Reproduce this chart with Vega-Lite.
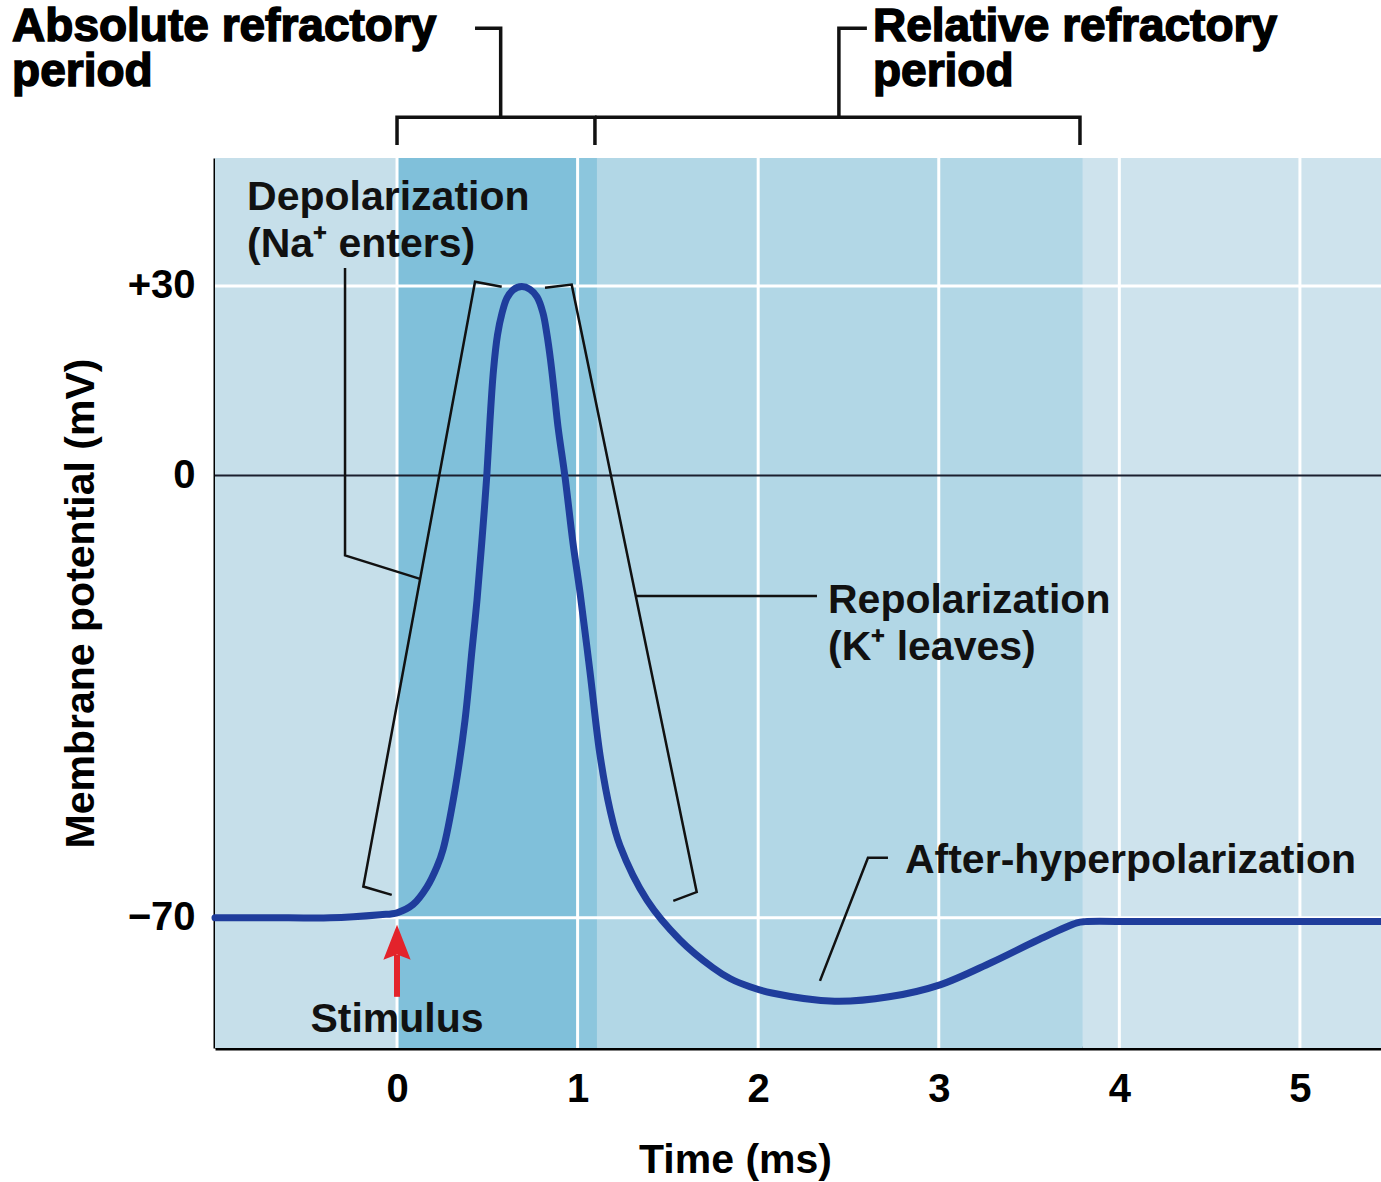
{
  "$schema": "https://vega.github.io/schema/vega-lite/v6.json",
  "width": 1166,
  "height": 890,
  "autosize": {"type": "none"},
  "padding": {"left": 215, "top": 158, "right": 0, "bottom": 134},
  "background": "white",
  "config": {"view": {"stroke": null}, "font": "Liberation Sans"},
  "datasets": {
    "zones": [
      {"a": -1.008, "b": 0, "zone": "rest"},
      {"a": 0, "b": 1.107, "zone": "absolute"},
      {"a": 1.0, "b": 1.107, "zone": "strip"},
      {"a": 1.107, "b": 3.798, "zone": "relative"},
      {"a": 3.798, "b": 5.449, "zone": "after"}
    ],
    "vgrid": [{"t": 0}, {"t": 1}, {"t": 2}, {"t": 3}, {"t": 4}, {"t": 5}],
    "hgrid": [{"v": 30}, {"v": -70}],
    "curve": [
      {"t": -1.008, "v": -70.0},
      {"t": -0.6, "v": -70.0},
      {"t": -0.371, "v": -70.0},
      {"t": -0.094, "v": -69.5},
      {"t": 0.0, "v": -69.2},
      {"t": 0.0886, "v": -67.9},
      {"t": 0.1661, "v": -65.1},
      {"t": 0.2215, "v": -61.9},
      {"t": 0.2547, "v": -59.2},
      {"t": 0.3212, "v": -49.7},
      {"t": 0.3765, "v": -38.7},
      {"t": 0.4153, "v": -27.6},
      {"t": 0.443, "v": -19.7},
      {"t": 0.469, "v": -10.7},
      {"t": 0.4967, "v": -0.2},
      {"t": 0.515, "v": 8.8},
      {"t": 0.5343, "v": 16.7},
      {"t": 0.5565, "v": 22.25},
      {"t": 0.5814, "v": 25.7},
      {"t": 0.6091, "v": 28.1},
      {"t": 0.6423, "v": 29.37},
      {"t": 0.6905, "v": 29.9},
      {"t": 0.7364, "v": 29.45},
      {"t": 0.7752, "v": 28.26},
      {"t": 0.8084, "v": 25.7},
      {"t": 0.8306, "v": 22.25},
      {"t": 0.85, "v": 18.3},
      {"t": 0.8694, "v": 13.5},
      {"t": 0.8915, "v": 7.7},
      {"t": 0.9302, "v": -0.2},
      {"t": 0.9745, "v": -10.7},
      {"t": 1.0133, "v": -18.5},
      {"t": 1.0687, "v": -31.1},
      {"t": 1.124, "v": -44.2},
      {"t": 1.1794, "v": -52.9},
      {"t": 1.2348, "v": -58.6},
      {"t": 1.3843, "v": -67.2},
      {"t": 1.567, "v": -73.5},
      {"t": 1.7497, "v": -77.9},
      {"t": 1.8439, "v": -79.6},
      {"t": 1.9546, "v": -80.9},
      {"t": 2.0764, "v": -81.9},
      {"t": 2.423, "v": -83.2},
      {"t": 2.7243, "v": -82.5},
      {"t": 3.0066, "v": -80.6},
      {"t": 3.289, "v": -77.1},
      {"t": 3.5493, "v": -73.5},
      {"t": 3.7652, "v": -70.8},
      {"t": 3.8095, "v": -70.6},
      {"t": 4.1, "v": -70.6},
      {"t": 4.6, "v": -70.6},
      {"t": 5.1, "v": -70.6},
      {"t": 5.449, "v": -70.6}
    ],
    "topBrackets": [
      {"g": "abs", "o": 1, "t": 0, "v": 52.3},
      {"g": "abs", "o": 2, "t": 0, "v": 56.7},
      {"g": "abs", "o": 3, "t": 1.096, "v": 56.7},
      {"g": "abs", "o": 4, "t": 1.096, "v": 52.3},
      {"g": "absr", "o": 1, "t": 0.574, "v": 56.7},
      {"g": "absr", "o": 2, "t": 0.574, "v": 70.8},
      {"g": "absr", "o": 3, "t": 0.432, "v": 70.8},
      {"g": "rel", "o": 1, "t": 1.096, "v": 56.7},
      {"g": "rel", "o": 2, "t": 3.782, "v": 56.7},
      {"g": "rel", "o": 3, "t": 3.782, "v": 52.3},
      {"g": "relr", "o": 1, "t": 2.447, "v": 56.7},
      {"g": "relr", "o": 2, "t": 2.447, "v": 70.8},
      {"g": "relr", "o": 3, "t": 2.602, "v": 70.8}
    ],
    "innerLines": [
      {"g": "dep", "o": 1, "t": -0.0293, "v": -66.36},
      {"g": "dep", "o": 2, "t": -0.1866, "v": -65.05},
      {"g": "dep", "o": 3, "t": 0.4319, "v": 30.68},
      {"g": "dep", "o": 4, "t": 0.5797, "v": 29.89},
      {"g": "depl", "o": 1, "t": -0.2879, "v": 32.85},
      {"g": "depl", "o": 2, "t": -0.2879, "v": -12.64},
      {"g": "depl", "o": 3, "t": 0.1274, "v": -16.36},
      {"g": "rep", "o": 1, "t": 0.8195, "v": 29.72},
      {"g": "rep", "o": 2, "t": 0.9673, "v": 30.21},
      {"g": "rep", "o": 3, "t": 1.6595, "v": -65.92},
      {"g": "rep", "o": 4, "t": 1.5299, "v": -67.31},
      {"g": "repl", "o": 1, "t": 1.3234, "v": -19.05},
      {"g": "repl", "o": 2, "t": 2.3256, "v": -19.05},
      {"g": "ahl", "o": 1, "t": 2.3422, "v": -79.97},
      {"g": "ahl", "o": 2, "t": 2.608, "v": -60.51},
      {"g": "ahl", "o": 3, "t": 2.7187, "v": -60.51}
    ],
    "headings": [
      {"label": "Absolute refractory", "t": -2.1318, "v": 68.84},
      {"label": "period", "t": -2.1318, "v": 61.57},
      {"label": "Relative refractory", "t": 2.6357, "v": 68.84},
      {"label": "period", "t": 2.6357, "v": 61.57}
    ],
    "notes": [
      {"label": "Depolarization", "t": -0.8306, "v": 42.03},
      {"label": "(Na⁺ enters)", "t": -0.8306, "v": 34.59},
      {"label": "Repolarization", "t": 2.3865, "v": -21.74},
      {"label": "(K⁺ leaves)", "t": 2.3865, "v": -29.18},
      {"label": "After-hyperpolarization", "t": 2.8128, "v": -62.88}
    ],
    "stimulus": [{"label": "Stimulus", "t": 0, "v": -88.04, "shaftTop": -75.85, "shaftBottom": -82.5, "head": -73.88}]
  },
  "layer": [
    {
      "data": {"name": "zones"},
      "mark": {"type": "rect"},
      "encoding": {
        "x": {"field": "a", "type": "quantitative", "scale": {"domain": [-1.008, 5.449], "nice": false, "zero": false}},
        "x2": {"field": "b"},
        "color": {
          "field": "zone",
          "type": "nominal",
          "legend": null,
          "scale": {
            "domain": ["rest", "absolute", "strip", "relative", "after"],
            "range": ["#c6dfea", "#80c0da", "#8cc6dd", "#b2d7e6", "#cee3ed"]
          }
        }
      }
    },
    {
      "data": {"name": "vgrid"},
      "mark": {"type": "rule", "color": "#ffffff", "strokeWidth": 3},
      "encoding": {"x": {"field": "t", "type": "quantitative"}}
    },
    {
      "data": {"name": "hgrid"},
      "mark": {"type": "rule", "color": "#ffffff", "strokeWidth": 3},
      "encoding": {"y": {"field": "v", "type": "quantitative"}}
    },
    {
      "data": {"values": [{"v": 0}]},
      "mark": {"type": "rule", "color": "#1b1f2e", "strokeWidth": 2},
      "encoding": {"y": {"field": "v", "type": "quantitative"}}
    },
    {
      "data": {"name": "innerLines"},
      "mark": {"type": "line", "color": "#111111", "strokeWidth": 2.5, "strokeJoin": "miter"},
      "encoding": {
        "x": {"field": "t", "type": "quantitative"},
        "y": {"field": "v", "type": "quantitative"},
        "detail": {"field": "g"},
        "order": {"field": "o"}
      }
    },
    {
      "data": {"name": "topBrackets"},
      "mark": {"type": "line", "color": "#111111", "strokeWidth": 3.5, "strokeJoin": "miter"},
      "encoding": {
        "x": {"field": "t", "type": "quantitative"},
        "y": {"field": "v", "type": "quantitative"},
        "detail": {"field": "g"},
        "order": {"field": "o"}
      }
    },
    {
      "data": {"name": "stimulus"},
      "mark": {"type": "rule", "color": "#e3232b", "strokeWidth": 6},
      "encoding": {
        "x": {"field": "t", "type": "quantitative"},
        "y": {"field": "shaftTop", "type": "quantitative"},
        "y2": {"field": "shaftBottom"}
      }
    },
    {
      "data": {"name": "stimulus"},
      "mark": {"type": "point", "filled": true, "color": "#e3232b", "opacity": 1, "size": 1225, "shape": "M0,-1L0.78,1L0,0.7L-0.78,1Z"},
      "encoding": {
        "x": {"field": "t", "type": "quantitative"},
        "y": {"field": "head", "type": "quantitative"}
      }
    },
    {
      "data": {"name": "curve"},
      "mark": {"type": "line", "color": "#1f3d9c", "strokeWidth": 7, "interpolate": "catmull-rom", "strokeCap": "round"},
      "encoding": {
        "x": {
          "field": "t",
          "type": "quantitative",
          "axis": {
            "values": [0, 1, 2, 3, 4, 5],
            "format": "d",
            "title": "Time (ms)",
            "grid": false,
            "ticks": false,
            "domainColor": "#000000",
            "domainWidth": 4,
            "labelFont": "Liberation Sans",
            "labelFontSize": 40,
            "labelFontWeight": "bold",
            "labelColor": "#000000",
            "labelPadding": 21,
            "labelFlush": false,
            "titleFont": "Liberation Sans",
            "titleFontSize": 41,
            "titleFontWeight": "bold",
            "titleColor": "#000000",
            "titleX": 520,
            "titleY": 124,
            "titleAlign": "center",
            "titleBaseline": "alphabetic"
          }
        },
        "y": {
          "field": "v",
          "type": "quantitative",
          "scale": {"domain": [-90.6, 50.25], "nice": false, "zero": false},
          "axis": {
            "values": [30, 0, -70],
            "labelExpr": "datum.value > 0 ? '+' + datum.label : datum.label",
            "title": "Membrane potential (mV)",
            "grid": false,
            "ticks": false,
            "domainColor": "#000000",
            "domainWidth": 4,
            "labelFont": "Liberation Sans",
            "labelFontSize": 40,
            "labelFontWeight": "bold",
            "labelColor": "#000000",
            "labelPadding": 20,
            "titleFont": "Liberation Sans",
            "titleFontSize": 41,
            "titleFontWeight": "bold",
            "titleColor": "#000000",
            "titleX": -122,
            "titleY": 445,
            "titleAngle": 270,
            "titleAlign": "center",
            "titleBaseline": "alphabetic"
          }
        }
      }
    },
    {
      "data": {"name": "notes"},
      "mark": {"type": "text", "align": "left", "baseline": "alphabetic", "font": "Liberation Sans", "fontSize": 41, "fontWeight": "bold", "color": "#111111"},
      "encoding": {
        "x": {"field": "t", "type": "quantitative"},
        "y": {"field": "v", "type": "quantitative"},
        "text": {"field": "label"}
      }
    },
    {
      "data": {"name": "stimulus"},
      "mark": {"type": "text", "align": "center", "baseline": "alphabetic", "font": "Liberation Sans", "fontSize": 41, "fontWeight": "bold", "color": "#111111"},
      "encoding": {
        "x": {"field": "t", "type": "quantitative"},
        "y": {"field": "v", "type": "quantitative"},
        "text": {"field": "label"}
      }
    },
    {
      "data": {"name": "headings"},
      "mark": {"type": "text", "align": "left", "baseline": "alphabetic", "font": "Liberation Sans", "fontSize": 46, "fontWeight": "bold", "color": "#000000", "stroke": "#000000", "strokeWidth": 1.5},
      "encoding": {
        "x": {"field": "t", "type": "quantitative"},
        "y": {"field": "v", "type": "quantitative"},
        "text": {"field": "label"}
      }
    }
  ]
}
